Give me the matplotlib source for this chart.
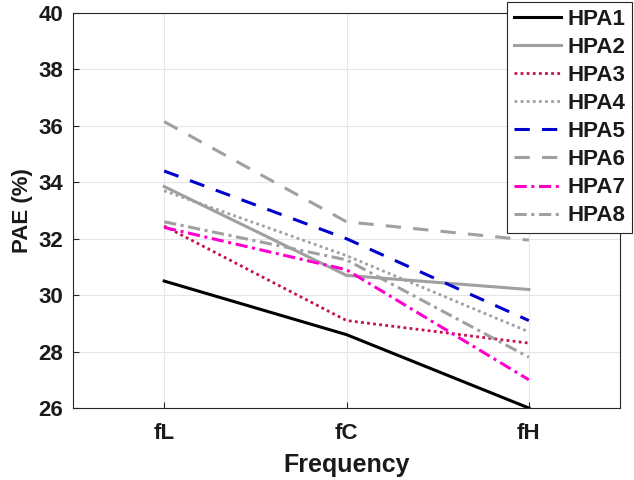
import matplotlib
matplotlib.use("Agg")
import matplotlib.pyplot as plt

plt.rcParams['font.family'] = ['Liberation Sans', 'DejaVu Sans']
plt.rcParams['font.weight'] = 'bold'

categories = ['fL', 'fC', 'fH']
series_names = ['HPA1', 'HPA2', 'HPA3', 'HPA4', 'HPA5', 'HPA6', 'HPA7', 'HPA8']
hpa1 = [30.5, 28.6, 26.0]
hpa2 = [33.85, 30.7, 30.2]
hpa3 = [32.45, 29.1, 28.3]
hpa4 = [33.7, 31.4, 28.7]
hpa5 = [34.4, 32.0, 29.1]
hpa6 = [36.15, 32.6, 31.95]
hpa7 = [32.4, 30.9, 27.0]
hpa8 = [32.6, 31.25, 27.8]
values = [hpa1, hpa2, hpa3, hpa4, hpa5, hpa6, hpa7, hpa8]
yticks = [26, 28, 30, 32, 34, 36, 38, 40]

styles = [
    dict(color='black', linestyle='-', linewidth=2.2),
    dict(color='#a0a0a0', linestyle='-', linewidth=2.2),
    dict(color='#c8104a', linestyle=(0, (1, 1.2)), linewidth=2.0),
    dict(color='#a0a0a0', linestyle=(0, (1, 1.2)), linewidth=2.0),
    dict(color='#0000cc', linestyle=(0, (5, 4)), linewidth=2.2),
    dict(color='#a0a0a0', linestyle=(0, (5, 4)), linewidth=2.2),
    dict(color='#ff00cc', linestyle=(0, (4, 1.5, 1, 1.5)), linewidth=2.2),
    dict(color='#a0a0a0', linestyle=(0, (4, 1.5, 1, 1.5)), linewidth=2.2),
]

txtc = '#1a1a1a'
fig = plt.figure(figsize=(6.34, 4.8), dpi=100)
ax = fig.add_axes([73/634, 72/480, (620-73)/634, (408-13)/480])
x = list(range(1, len(categories) + 1))
for name, v, st in zip(series_names, values, styles):
    ax.plot(x, v, label=name, **st)

ax.set_xlim(0.5, 3.5)
ax.set_ylim(26, 40)
ax.set_xticks(x)
ax.set_xticklabels(categories, fontsize=16, fontweight='bold')
ax.set_yticks(yticks)
ax.set_yticklabels([str(t) for t in yticks], fontsize=16, fontweight='bold')
ax.tick_params(axis='x', direction='in', length=4, colors='#262626', labelcolor=txtc, pad=11)
ax.tick_params(axis='y', direction='in', length=4, colors='#262626', labelcolor=txtc, pad=7)
ax.grid(True, color='#e6e6e6', linewidth=0.8)
ax.set_axisbelow(True)
for s in ax.spines.values():
    s.set_color('#262626')
    s.set_linewidth(0.8)
ax.set_xlabel('Frequency', fontsize=18, fontweight='bold', color=txtc, labelpad=6)
ax.set_ylabel('PAE (%)', fontsize=16, fontweight='bold', color=txtc, labelpad=4)

leg = fig.legend(loc='upper right', bbox_to_anchor=(632/634, 478/480),
                 bbox_transform=fig.transFigure, fontsize=16, frameon=True,
                 fancybox=False, edgecolor='#262626', framealpha=1,
                 handlelength=2.1, handletextpad=0.3, labelspacing=0.32,
                 borderpad=0.3, borderaxespad=0)
leg.get_frame().set_linewidth(0.8)
for t in leg.get_texts():
    t.set_fontweight('bold')
    t.set_color(txtc)

fig.savefig('out.png', dpi=100)
